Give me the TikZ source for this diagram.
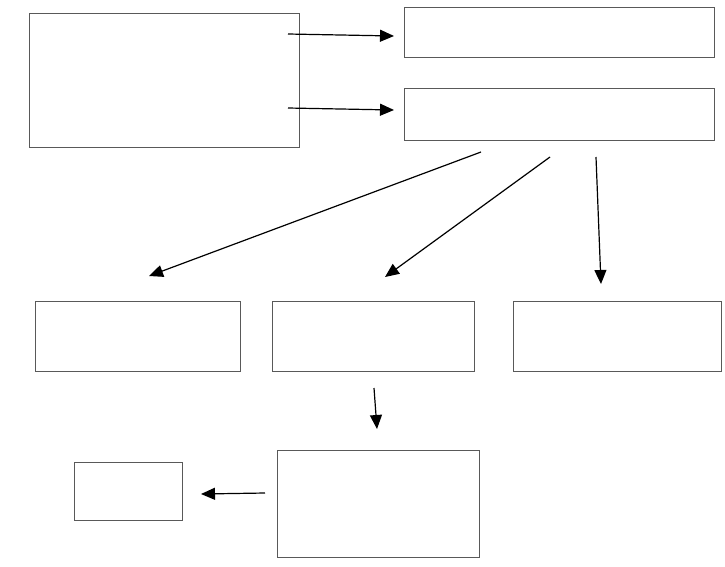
\documentclass[tikz,border=0pt]{standalone}
\usetikzlibrary{arrows.meta}
\begin{document}
\begin{tikzpicture}[x=1pt,y=-1pt,
  box/.style={draw=black!65,line width=0.9pt,fill=white},
  arr/.style={draw=black,line width=1.2pt,-{Triangle[length=14pt,width=12pt]}}]
\useasboundingbox (0,0) rectangle (725,566);
\draw[box] (29,13) rectangle (299,147) coordinate (A);
\draw[box] (404,7) rectangle (714,57) coordinate (B);
\draw[box] (404,88) rectangle (714,140) coordinate (C);
\draw[box] (35,301) rectangle (240,371) coordinate (D);
\draw[box] (272,301) rectangle (474,371) coordinate (E);
\draw[box] (513,301) rectangle (721,371) coordinate (F);
\draw[box] (277,450) rectangle (479,557) coordinate (G);
\draw[box] (74,462) rectangle (182,520) coordinate (H);
\coordinate (a1) at (288,34);  \coordinate (b1) at (394,36);
\coordinate (a2) at (288,108); \coordinate (c1) at (394,110);
\coordinate (c2) at (481,152); \coordinate (d1) at (149,276);
\coordinate (c3) at (550,157); \coordinate (e1) at (385,277);
\coordinate (c4) at (596,157); \coordinate (f1) at (601,284);
\coordinate (e2) at (374,388); \coordinate (g1) at (377,429);
\coordinate (g2) at (265,493); \coordinate (h1) at (201,494);
\draw[arr] (a1) -- (b1);
\draw[arr] (a2) -- (c1);
\draw[arr] (c2) -- (d1);
\draw[arr] (c3) -- (e1);
\draw[arr] (c4) -- (f1);
\draw[arr] (e2) -- (g1);
\draw[arr] (g2) -- (h1);
\end{tikzpicture}
\end{document}
